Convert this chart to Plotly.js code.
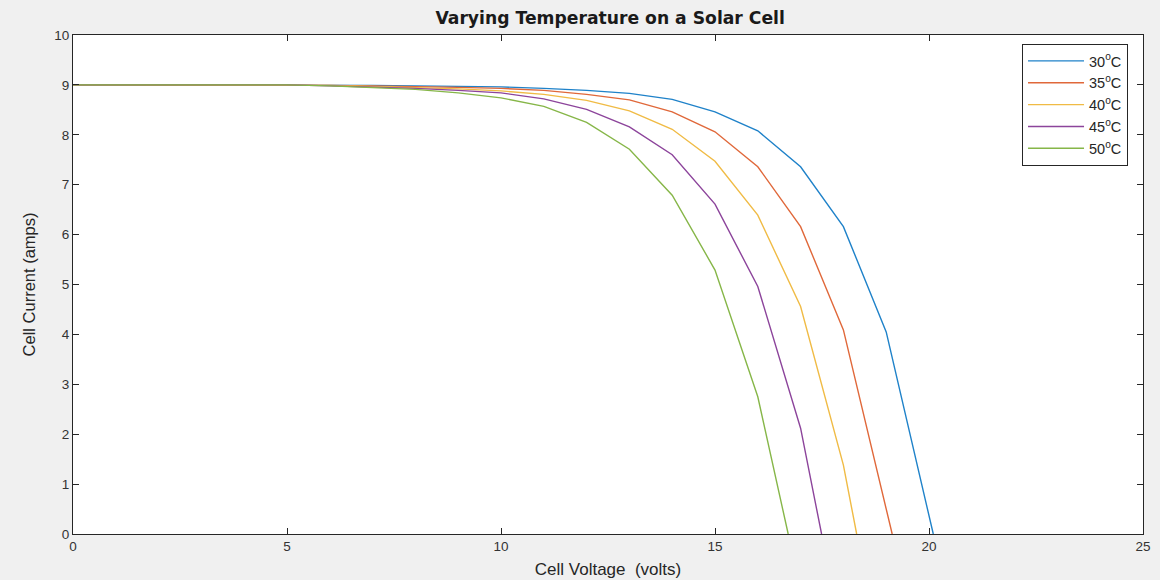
<!DOCTYPE html>
<html>
<head>
<meta charset="utf-8">
<script src="https://cdn.plot.ly/plotly-3.0.1.min.js"></script>
<style>
html,body{margin:0;padding:0;background:#f0f0f0;}
#chart{width:1160px;height:580px;}
</style>
</head>
<body>
<div id="chart"></div>
<script>
// Series names
const seriesNames = ['30<sup>o</sup>C', '35<sup>o</sup>C', '40<sup>o</sup>C', '45<sup>o</sup>C', '50<sup>o</sup>C'];

// Voltage (x) values per series
const v30 = [0,1,2,3,4,5,6,7,8,9,10,11,12,13,14,15,16,17,18,19,20,20.1];
const v35 = [0,1,2,3,4,5,6,7,8,9,10,11,12,13,14,15,16,17,18,19,19.14];
const v40 = [0,1,2,3,4,5,6,7,8,9,10,11,12,13,14,15,16,17,18,18.31];
const v45 = [0,1,2,3,4,5,6,7,8,9,10,11,12,13,14,15,16,17,17.49];
const v50 = [0,1,2,3,4,5,6,7,8,9,10,11,12,13,14,15,16,16.71];

// Current (y) values per series
const i30 = [9.00,9.00,9.00,9.00,9.00,9.00,8.99,8.99,8.98,8.97,8.96,8.93,8.89,8.83,8.71,8.46,8.08,7.36,6.16,4.05,0.35,0];
const i35 = [9.00,9.00,9.00,9.00,9.00,9.00,8.99,8.98,8.97,8.95,8.93,8.89,8.81,8.70,8.46,8.06,7.36,6.16,4.09,0.53,0];
const i40 = [9.00,9.00,9.00,9.00,9.00,9.00,8.99,8.97,8.95,8.92,8.88,8.81,8.69,8.48,8.11,7.47,6.39,4.56,1.38,0];
const i45 = [9.00,9.00,9.00,9.00,9.00,9.00,8.98,8.96,8.93,8.89,8.84,8.72,8.51,8.16,7.60,6.61,4.96,2.12,0];
const i50 = [9.00,9.00,9.00,9.00,9.00,9.00,8.98,8.95,8.91,8.84,8.74,8.57,8.25,7.71,6.79,5.29,2.75,0];

const colors = ['#1f82c9','#e0683a','#f0bb45','#8c449b','#86b648'];
const xs = [v30,v35,v40,v45,v50];
const ys = [i30,i35,i40,i45,i50];

const traces = xs.map((x,k)=>({
  x: x, y: ys[k], type:'scatter', mode:'lines', name: seriesNames[k],
  line:{color:colors[k], width:1.4}
}));

const axisCommon = {
  showline:true, linecolor:'#262626', linewidth:1, mirror:'ticks',
  ticks:'inside', ticklen:6, tickcolor:'#262626', showgrid:false, zeroline:false,
  tickfont:{family:'Liberation Sans, Arial', size:13.5, color:'#333333'}
};

const layout = {
  width:1160, height:580,
  paper_bgcolor:'#f0f0f0', plot_bgcolor:'#ffffff',
  margin:{l:73, r:17, t:35, b:46},
  title:{text:'<b>Varying Temperature on a Solar Cell</b>', x:0.526, xanchor:'center', y:0.969, yanchor:'middle',
    font:{family:'DejaVu Sans, Arial', size:17.2, color:'#1a1a1a'}},
  xaxis: Object.assign({}, axisCommon, {range:[0,25], tick0:0, dtick:5,
    title:{text:'Cell Voltage  (volts)', standoff:9, font:{family:'Liberation Sans, Arial', size:17, color:'#262626'}}}),
  yaxis: Object.assign({}, axisCommon, {range:[0,10], tick0:0, dtick:1,
    title:{text:'Cell Current (amps)', standoff:14, font:{family:'Liberation Sans Narrow, Liberation Sans, Arial', size:16.5, color:'#262626'}}}),
  showlegend:true,
  legend:{x:0.986, xanchor:'right', y:0.982, yanchor:'top', bgcolor:'#ffffff', bordercolor:'#262626', borderwidth:1,
    font:{family:'Liberation Sans, Arial', size:14.5, color:'#262626'}, itemwidth:56, tracegroupgap:0}
};

Plotly.newPlot('chart', traces, layout, {displayModeBar:false, staticPlot:true});
</script>
</body>
</html>
